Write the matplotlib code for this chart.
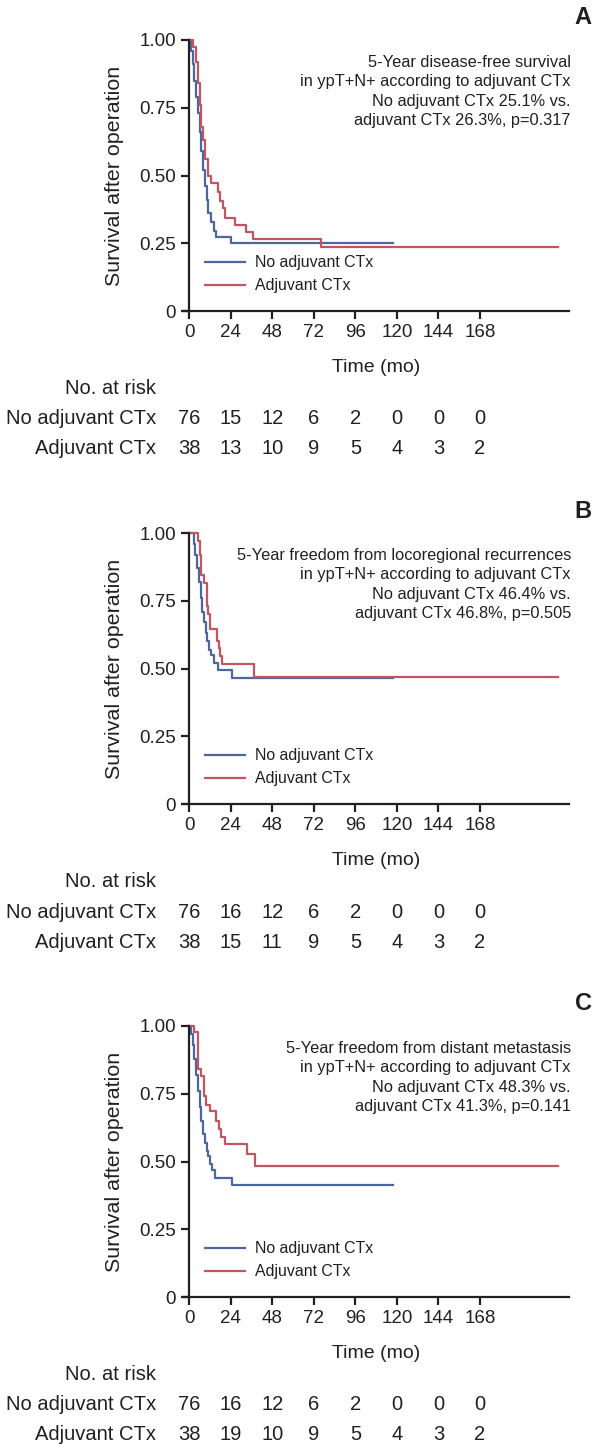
import matplotlib
matplotlib.use('Agg')
import matplotlib.pyplot as plt
from matplotlib.transforms import blended_transform_factory

plt.rcParams['font.family'] = ['Liberation Sans', 'DejaVu Sans']

# ---------------- data ----------------
time_ticks = [0, 24, 48, 72, 96, 120, 144, 168]
y_ticks = [0, 0.25, 0.50, 0.75, 1.00]
y_tick_labels = ['0', '0.25', '0.50', '0.75', '1.00']
group_labels = ['No adjuvant CTx', 'Adjuvant CTx']
panel_letters = ['A', 'B', 'C']

# Panel A: disease-free survival
a_no_t = [0, 1, 2, 3, 4, 5, 6, 7, 8, 9, 10, 11, 12.6, 14, 15.7, 24.2, 118]
a_no_s = [1.0, 0.96, 0.91, 0.85, 0.79, 0.73, 0.66, 0.59, 0.52, 0.46, 0.41, 0.36, 0.33, 0.294, 0.273, 0.251, 0.251]
a_adj_t = [0, 2, 4.1, 5, 6, 7, 8, 9.3, 11, 12.6, 16.5, 18, 19.6, 20.5, 26.7, 32.7, 36.9, 76, 213]
a_adj_s = [1.0, 0.974, 0.92, 0.84, 0.76, 0.68, 0.63, 0.56, 0.50, 0.474, 0.44, 0.405, 0.38, 0.343, 0.316, 0.29, 0.266, 0.237, 0.237]
a_risk_no = [76, 15, 12, 6, 2, 0, 0, 0]
a_risk_adj = [38, 13, 10, 9, 5, 4, 3, 2]
a_text = '5-Year disease-free survival\nin ypT+N+ according to adjuvant CTx\nNo adjuvant CTx 25.1% vs.\nadjuvant CTx 26.3%, p=0.317'

# Panel B: freedom from locoregional recurrences
b_no_t = [0, 2.5, 3.5, 4.5, 5.5, 6.5, 7.5, 8.5, 9.5, 10.5, 11.5, 12.5, 14, 16.5, 24.8, 118]
b_no_s = [1.0, 0.96, 0.92, 0.87, 0.82, 0.76, 0.71, 0.67, 0.63, 0.60, 0.57, 0.55, 0.52, 0.496, 0.464, 0.464]
b_adj_t = [0, 4.8, 6, 7, 8.5, 10.3, 11, 12.2, 16.1, 17, 18, 19, 37.4, 213]
b_adj_s = [1.0, 0.97, 0.92, 0.845, 0.815, 0.73, 0.70, 0.645, 0.60, 0.576, 0.545, 0.515, 0.468, 0.468]
b_risk_no = [76, 16, 12, 6, 2, 0, 0, 0]
b_risk_adj = [38, 15, 11, 9, 5, 4, 3, 2]
b_text = '5-Year freedom from locoregional recurrences\nin ypT+N+ according to adjuvant CTx\nNo adjuvant CTx 46.4% vs.\nadjuvant CTx 46.8%, p=0.505'

# Panel C: freedom from distant metastasis
c_no_t = [0, 1, 2, 3, 4, 5, 6, 7, 8, 9, 10, 11, 12, 13.2, 15.1, 24.8, 118]
c_no_s = [1.0, 0.97, 0.93, 0.88, 0.82, 0.76, 0.70, 0.65, 0.60, 0.57, 0.54, 0.52, 0.49, 0.47, 0.44, 0.413, 0.413]
c_adj_t = [0, 2.5, 4.8, 6.8, 8.7, 9.9, 12.2, 15.7, 17, 18.4, 20.8, 33.6, 37.9, 213]
c_adj_s = [1.0, 0.977, 0.84, 0.815, 0.74, 0.71, 0.688, 0.65, 0.62, 0.59, 0.565, 0.528, 0.485, 0.485]
c_risk_no = [76, 16, 12, 6, 2, 0, 0, 0]
c_risk_adj = [38, 19, 10, 9, 5, 4, 3, 2]
c_text = '5-Year freedom from distant metastasis\nin ypT+N+ according to adjuvant CTx\nNo adjuvant CTx 48.3% vs.\nadjuvant CTx 41.3%, p=0.141'

# ---------------- layout ----------------
W, H = 598, 1452
BLUE = '#4d669e'
RED = '#c25562'
TEXT = '#231f20'

fig = plt.figure(figsize=(W / 100, H / 100), dpi=100)

panels = [
    (a_no_t, a_no_s, a_adj_t, a_adj_s, a_risk_no, a_risk_adj, a_text, 40),
    (b_no_t, b_no_s, b_adj_t, b_adj_s, b_risk_no, b_risk_adj, b_text, 533),
    (c_no_t, c_no_s, c_adj_t, c_adj_s, c_risk_no, c_risk_adj, c_text, 1026),
]

AX_LEFT = 182.7
AX_W = 386.6
AX_H = 271.0
RISK_FS = 14.5

for i, (nt, ns, at, as_, rn, ra, txt, top) in enumerate(panels):
    ax = fig.add_axes([AX_LEFT / W, 1 - (top + AX_H) / H, AX_W / W, AX_H / H])
    ax.step(nt, ns, where='post', color=BLUE, lw=1.6, clip_on=False, label=group_labels[0])
    ax.step(at, as_, where='post', color=RED, lw=1.6, clip_on=False, label=group_labels[1])
    ax.set_xlim(-3.8, 219.6)
    ax.set_ylim(0, 1.0)
    for s in ['top', 'right']:
        ax.spines[s].set_visible(False)
    ax.spines['left'].set_position(('data', 0))
    for s in ['left', 'bottom']:
        ax.spines[s].set_linewidth(1.6)
        ax.spines[s].set_color(TEXT)
    ax.set_xticks(time_ticks)
    ax.set_xticklabels([str(v) for v in time_ticks])
    ax.set_yticks(y_ticks)
    ax.set_yticklabels(y_tick_labels)
    ax.tick_params(direction='out', length=6, width=1.6, labelsize=13.5, pad=3.5, colors=TEXT)

    ax.set_ylabel('Survival after operation', fontsize=15.4, color=TEXT)
    ax.yaxis.set_label_coords((124 - AX_LEFT) / AX_W, 0.5)
    ax.set_xlabel('Time (mo)', fontsize=14, color=TEXT)
    ax.xaxis.set_label_coords(0.5, -56 / AX_H)
    ax.xaxis.label.set_va('center')

    leg = ax.legend(loc='upper left', bbox_to_anchor=(0.058, 0.205), frameon=False,
                    fontsize=11.4, handlelength=2.5, handletextpad=0.63,
                    labelspacing=0.5, borderpad=0, borderaxespad=0)
    for t in leg.get_texts():
        t.set_color(TEXT)

    ax.text((571 - AX_LEFT) / AX_W, 1 - 15 / AX_H, txt, transform=ax.transAxes,
            ha='right', va='top', fontsize=11.8, linespacing=1.36, color=TEXT)

    ax.text((583 - AX_LEFT) / AX_W, 1 + 22 / AX_H, panel_letters[i],
            transform=ax.transAxes, ha='center', va='center',
            fontsize=17, fontweight='bold', color=TEXT)

    tr = blended_transform_factory(ax.transData, ax.transAxes)
    lab_x = (156 - AX_LEFT) / AX_W
    ax.text(lab_x, -77 / AX_H, 'No. at risk', transform=ax.transAxes, ha='right',
            va='center', fontsize=RISK_FS, color=TEXT)
    ax.text(lab_x, -108 / AX_H, group_labels[0], transform=ax.transAxes, ha='right',
            va='center', fontsize=RISK_FS, color=TEXT)
    ax.text(lab_x, -138 / AX_H, group_labels[1], transform=ax.transAxes, ha='right',
            va='center', fontsize=RISK_FS, color=TEXT)
    for x, v in zip(time_ticks, rn):
        ax.text(x, -108 / AX_H, str(v), transform=tr, ha='center', va='center',
                fontsize=RISK_FS, color=TEXT)
    for x, v in zip(time_ticks, ra):
        ax.text(x, -138 / AX_H, str(v), transform=tr, ha='center', va='center',
                fontsize=RISK_FS, color=TEXT)

fig.savefig('out.png', dpi=100, facecolor='white')
